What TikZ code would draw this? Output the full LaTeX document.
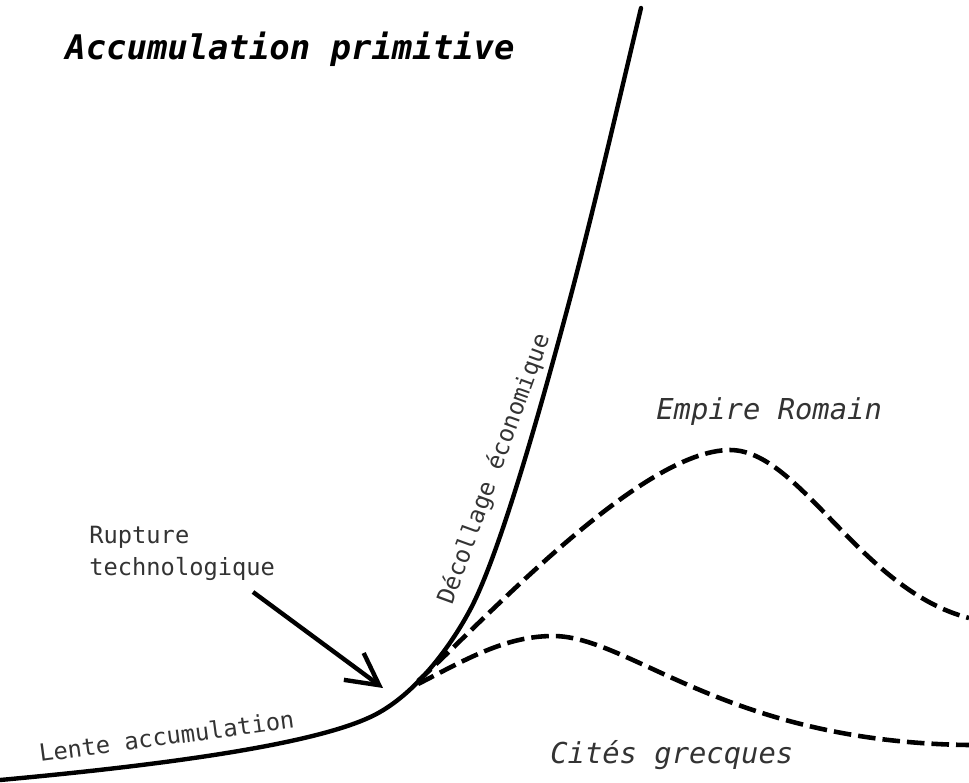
\documentclass[tikz,border=0pt]{standalone}
\usepackage{fontspec}
\newfontfamily\dvm{DejaVu Sans Mono}
\usetikzlibrary{arrows.meta}
\definecolor{txt}{HTML}{333333}
\begin{document}
\begin{tikzpicture}[x=0.02cm,y=-0.02cm,
  curve/.style={line width=2.5pt, line join=round, line cap=round},
  dashcurve/.style={line width=2.6pt, dash pattern=on 10pt off 4pt},
  lbl/.style={inner sep=0pt, anchor=base west, text=txt, font=\dvm\fontsize{13.5}{16}\selectfont},
  biglbl/.style={lbl, font=\dvm\itshape\fontsize{16.4}{19}\selectfont},
  titlelbl/.style={inner sep=0pt, anchor=base west, text=black, font=\dvm\bfseries\itshape\fontsize{19.3}{23}\selectfont},
  pointer/.style={line width=2.5pt, -{Straight Barb[length=18pt,width=19pt]}}
]
\useasboundingbox (0,0) rectangle (969,782);

% named points of the curves
\coordinate (start) at (0,780);
\coordinate (p1) at (380,712);
\coordinate (p2) at (470,610);
\coordinate (p3) at (567,310);
\coordinate (top) at (641,8);
\coordinate (ebranch) at (418,681);
\coordinate (epeak) at (730,450);
\coordinate (eend) at (969,618);
\coordinate (cbranch) at (418,684);
\coordinate (cpeak) at (553,636);
\coordinate (cend) at (969,745);

% main growth curve
\draw[curve] (start) .. controls (130,768) and (320,747) .. (p1)
                     .. controls (415,692) and (448,651) .. (p2)
                     .. controls (500,554) and (542,403) .. (p3)
                     .. controls (592,217) and (616,113) .. (top);

% Empire Romain
\draw[dashcurve] (ebranch) .. controls (480,625) and (640,450) .. (epeak)
                           .. controls (800,450) and (860,590) .. (eend);

% Cites grecques
\draw[dashcurve] (cbranch) .. controls (465,660) and (505,636) .. (cpeak)
                           .. controls (630,636) and (725,742) .. (cend);

% labels
\node[titlelbl] (title) at (65,59) {Accumulation primitive};
\node[biglbl] (empire) at (656,419) {Empire Romain};
\node[biglbl] (cites) at (550,763) {Cités grecques};
\node[lbl, rotate=7.6] (lente) at (40,762) {Lente accumulation};
\node[lbl, rotate=70] (decol) at (452,606) {Décollage économique};
\node[lbl] (rupt1) at (89,543) {Rupture};
\node[lbl] (rupt2) at (89,575) {technologique};

% arrow
\coordinate (atail) at (253,592);
\coordinate (ahead) at (383,688);
\draw[pointer] (atail) -- (ahead);
\end{tikzpicture}
\end{document}
